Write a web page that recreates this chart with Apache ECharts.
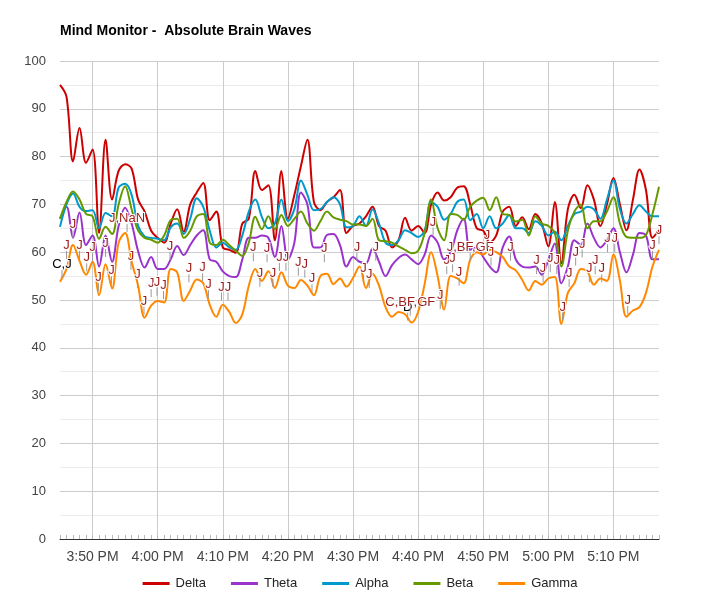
<!DOCTYPE html>
<html>
<head>
<meta charset="utf-8">
<script src="https://cdn.jsdelivr.net/npm/echarts@6/dist/echarts.min.js"></script>
<style>html,body{margin:0;padding:0;background:#fff}#c{width:720px;height:600px}</style>
</head>
<body>
<div id="c"></div>
<script>
// Time grid: minutes since midnight, one sample per minute from 3:45 PM to 5:17 PM
const startMinute = 945;
const endMinute = 1037;
const times = [];
for (let t = startMinute; t <= endMinute; t++) times.push(t);

const seriesNames = ['Delta', 'Theta', 'Alpha', 'Beta', 'Gamma'];
const seriesColors = ['#cc0000', '#9933cc', '#0099cc', '#669900', '#ff8800'];

const delta = [95,92.5,79,86,78.7,81.5,64,83.5,71,77,78.4,77.5,71,68.5,64.5,63,62,66,69,64.3,
  70,72.5,74.5,66.7,68.5,61,60.5,59.9,66,67,77,73,74,62.5,77,67,72,78,83.5,70.5,
  68.8,70.5,71.5,73,64,65.5,66,67.5,69.5,65.5,64.5,61,62.5,67.2,64.5,65.5,64,70,72.5,70.8,
  71.5,73.5,73.8,70,65,64.5,62,63.5,68.5,69.5,65.5,67.3,64.8,68,66,61.2,70.5,57.7,69,72,
  69.2,74,71,65.5,70,75.5,70,64.6,71,77.3,73,63,64.6];
const theta = [67,69.5,63,68.3,61.5,63.5,57,63.5,58,65.5,69.3,66,60.2,56.8,59,56.5,56.5,58.5,61.3,59.4,
  61.5,63.5,64.6,58.5,58,56,55,54.8,58.5,63,63,63.5,63,59,65.5,58.5,62,72.5,70,61,
  61,63.6,63.8,61.5,57,59,58,57.7,60.8,58,55,57.3,58.8,59.5,58.5,57.5,59.5,63.5,62,58.5,
  60,64.5,67,60.5,61,59,57,55.8,61,63.3,58.5,57,56.8,57,55.3,58.4,61.8,53.5,57,62.5,
  61.5,66,63,61,62.5,65,60,55.8,59.5,64,63.5,58.5,58.5];
const alpha = [65.3,70,72.3,69.5,68.6,68.8,65,68.2,67.5,73.5,74.3,72,65.5,63.3,63,62.8,62.5,65.2,66,63.8,
  67,71.3,69.5,64.5,61,62,61,60.5,63.5,68.5,71,67.4,65,66,71,66.5,69,75,72,68.8,
  69,70.5,71.5,70,65.2,65.5,67.5,65.5,69,66,62,61.5,62.5,64.6,64,63.2,64.5,70.5,69.5,66.8,
  68,70.5,71,66.7,68,65,67.5,65,66,67.8,65,65,64,66.5,65.5,63.5,64.3,62.5,65.5,68,
  68.5,69.5,69,67,71,75,69,66,68,69.8,68.5,67.5,67.5];
const beta = [67,70.5,72.7,71,68,67.5,62.8,65.3,63.8,70,73.8,69,64.5,63,62.6,62,63.5,66.7,67,63,
  64.5,67.5,68,62,61.5,62.6,61.5,60.3,59.2,62,67.4,64.8,67.5,64.8,67.8,65.5,67,68.5,66,64.5,
  66.5,68.5,67.3,66.8,66.5,65.8,65.8,65.5,67,62.5,62.3,62,61.2,60.5,59.8,60.3,64,71,65,62.5,
  68,67.8,66.8,69.5,70.8,71.4,68.8,71.5,68,67.8,66.4,66.8,63.5,67.5,66,65.5,64,57,64.5,68.5,
  70,65,66.5,66.5,68.5,71.5,66,63.2,63,63,63.6,68,73.7];
const gamma = [53.8,56.5,61.5,58.2,55.3,58,51,57.5,52.4,62,64,58,53,46.3,48.8,49.8,49.5,56.5,55.8,49.8,
  52,54.3,53.5,49,46.5,49,47.5,45.2,47,53,56.5,54,56,52.5,55.8,53,52.5,54.2,53,51,
  55,55.5,53.3,54.5,52.8,54.6,57,52.5,55.5,53,48.5,46.5,47.5,47,45.3,47.5,53.3,60,55,48,
  55,54.5,53.5,58.4,60,59.5,60.5,60,59,57,56.2,54.2,52,54,53.2,54.5,54.8,45,51.5,53.5,
  56.5,56,53.2,54.5,54,59.5,54,46.5,47.8,48.5,51.5,57,60.5];

// Annotations: anchor time (minutes since midnight), anchor value, text
const annoTimes = [945.3,946,947,948,949.1,950,950.9,952,952.9,955.3,955.9,956.9,957.9,959,959.9,960.9,961.9,
  964.8,966.9,967.8,969.8,970.8,974.7,975.7,976.8,977.7,978.7,979.7,981.6,982.6,983.7,985.6,
  990.6,991.6,992.5,993.5,998.4,998.8,1002.3,1003.4,1004.4,1005.3,1006.3,1008,1010.6,1011.2,1014.2,
  1018.2,1019.2,1020.3,1021.3,1022.2,1023.2,1024.2,1025.2,1026.3,1027.2,1028.2,1029.1,1030.2,1032.2,1036,1037];
const annoValues = [54.6,58.6,62.9,58.6,56,58.1,51.9,59,53.3,64.2,56.3,52.5,46.9,50.6,50.9,50.2,58.4,
  53.7,53.9,50.4,49.9,49.9,58.1,52.8,57.9,52.7,56.1,56.1,55.1,54.7,51.6,57.9,
  58.2,53.7,52.5,58.2,45.7,46.7,63.5,48.1,55.4,55.8,53,58.2,60.7,57.2,58.2,
  55.4,53.7,55.8,55.4,45.7,52.7,57.2,58.9,53.7,55.4,53.7,60,60,47.1,58.6,61.7];
const annoTexts = ['C,J','J','J','J','J','J','J','J','J','J,NaN','J','J','J','J','J','J','J',
  'J','J','J','J','J','J','J','J','J','J','J','J','J','J','J',
  'J','J','J','J','D','C,BF,GF','J','J','J','J','J','J,BF,GF','J','J','J',
  'J','J','J','J','J','J','J','J','J','J','J','J','J','J','J','J'];

const yTicks = [0, 100, 10];
const FONT = 'Arial, "Liberation Sans", sans-serif';

function fmtTime(v) {
  const h24 = Math.floor(v / 60), m = Math.round(v % 60);
  const h = h24 > 12 ? h24 - 12 : h24;
  return h + ':' + (m < 10 ? '0' + m : m) + ' ' + (h24 >= 12 ? 'PM' : 'AM');
}

const lineSeries = seriesNames.map((name, i) => {
  const vals = [delta, theta, alpha, beta, gamma][i];
  return {
    name: name,
    type: 'line',
    smooth: 0.35,
    showSymbol: false,
    symbol: 'none',
    color: seriesColors[i],
    lineStyle: { width: 2, color: seriesColors[i] },
    data: times.map((t, k) => [t, vals[k]]),
    z: 2
  };
});

const annoData = annoTimes.map((t, i) => [t, annoValues[i], annoTexts[i]]);

const annoSeries = {
  type: 'custom',
  name: 'annotations',
  clip: false,
  silent: true,
  z: 5,
  data: annoData,
  encode: { x: 0, y: 1 },
  renderItem: function (params, api) {
    const p = api.coord([api.value(0), api.value(1)]);
    const txt = annoData[params.dataIndex][2];
    const black = (txt === 'C,J' || txt === 'D');
    return {
      type: 'group',
      children: [
        { type: 'line', shape: { x1: p[0], y1: p[1], x2: p[0], y2: p[1] - 8 },
          style: { stroke: '#999', lineWidth: 1 } },
        { type: 'text', x: p[0], y: p[1] - 7,
          style: { text: txt, align: 'center', verticalAlign: 'bottom',
            fill: black ? '#000' : '#9b1c1c', font: '13px ' + FONT,
            stroke: '#fff', lineWidth: 2 } }
      ]
    };
  }
};

const chart = echarts.init(document.getElementById('c'), null, { renderer: 'canvas' });
chart.setOption({
  animation: false,
  backgroundColor: '#fff',
  title: {
    text: 'Mind Monitor -  Absolute Brain Waves',
    left: 60, top: 24, padding: 0,
    textStyle: { fontSize: 14, fontWeight: 'bold', color: '#000', fontFamily: FONT }
  },
  legend: {
    bottom: 5,
    left: 'center',
    icon: 'rect',
    itemWidth: 27, itemHeight: 3,
    itemGap: 25,
    data: seriesNames,
    textStyle: { fontSize: 13, color: '#222', fontFamily: FONT, padding: [0, 0, 0, 1] }
  },
  grid: { left: 60, right: 61, top: 61, bottom: 61, containLabel: false },
  xAxis: {
    type: 'value',
    min: startMinute, max: endMinute, interval: 5,
    axisLine: { show: true, lineStyle: { color: '#333', width: 1 } },
    axisTick: { show: true, inside: true, length: 4, lineStyle: { color: '#bbb' } },
    minorTick: { show: true, splitNumber: 5, length: 4, lineStyle: { color: '#bbb' } },
    splitLine: { show: true, showMaxLine: false, showMinLine: false,
      lineStyle: { color: ['#cccccc', 'rgba(0,0,0,0)'], width: 1 } },
    axisLabel: {
      margin: 11, fontSize: 14, color: '#444', fontFamily: FONT,
      showMinLabel: true, showMaxLabel: true,
      formatter: v => (Math.round(v) % 10 === 0 ? fmtTime(v) : '')
    }
  },
  yAxis: {
    type: 'value',
    min: yTicks[0], max: yTicks[1], interval: yTicks[2],
    axisLine: { show: false },
    axisTick: { show: false },
    splitLine: { lineStyle: { color: '#cccccc', width: 1 } },
    minorTick: { show: false, splitNumber: 2 },
    minorSplitLine: { show: true, lineStyle: { color: '#ebebeb', width: 1 } },
    axisLabel: { margin: 14, fontSize: 13, color: '#444', fontFamily: FONT }
  },
  series: lineSeries.concat([annoSeries])
});
</script>
</body>
</html>
